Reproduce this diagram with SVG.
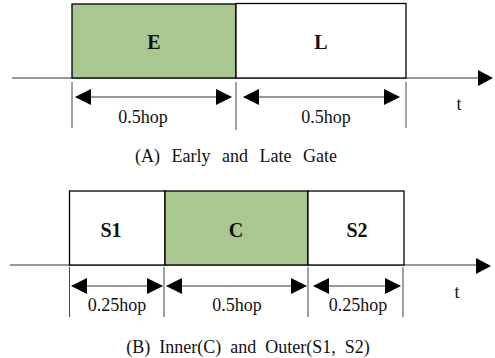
<svg xmlns="http://www.w3.org/2000/svg" width="495" height="358" viewBox="0 0 495 358">
<style>
.box{stroke:#000;stroke-width:1.3}
.g{fill:#a9c791}
.w{fill:#fff}
.axis{stroke:#333;stroke-width:1.2}
.tick{stroke:#444;stroke-width:1}
.dim{stroke:#333;stroke-width:1.2}
.lbl{font-family:"Liberation Serif",serif;font-size:20px;font-weight:bold;text-anchor:middle;fill:#111}
.t{font-family:"Liberation Serif",serif;font-size:18px;text-anchor:middle;fill:#111}
.cap{font-family:"Liberation Serif",serif;font-size:18px;text-anchor:middle;fill:#111;word-spacing:7px}
</style>
<defs>
<marker id="ah" markerWidth="16" markerHeight="16" refX="15" refY="8" orient="auto-start-reverse" markerUnits="userSpaceOnUse">
<path d="M0,0 L16,8 L0,16 Z" fill="#000"/>
</marker>
</defs>
<g id="connectors">
<line class="axis" x1="12" y1="78" x2="480" y2="78"/>
<path d="M478,70 L493,78 L478,86 Z" fill="#000"/>
<line class="tick" x1="72" y1="82" x2="72" y2="128"/>
<line class="tick" x1="236" y1="82" x2="236" y2="130"/>
<line class="tick" x1="406" y1="82" x2="406" y2="128"/>
<line class="dim" x1="76" y1="97" x2="231" y2="97" marker-start="url(#ah)" marker-end="url(#ah)"/>
<line class="dim" x1="244" y1="97" x2="399" y2="97" marker-start="url(#ah)" marker-end="url(#ah)"/>
<line class="axis" x1="10" y1="265" x2="477" y2="265"/>
<path d="M476,258 L491,266 L476,274 Z" fill="#000"/>
<line class="tick" x1="69.5" y1="267" x2="69.5" y2="317"/>
<line class="tick" x1="164" y1="267" x2="164" y2="317"/>
<line class="tick" x1="308" y1="267" x2="308" y2="317"/>
<line class="tick" x1="403" y1="267" x2="403" y2="317"/>
<line class="dim" x1="72" y1="286" x2="162" y2="286" marker-start="url(#ah)" marker-end="url(#ah)"/>
<line class="dim" x1="167" y1="286" x2="306" y2="286" marker-start="url(#ah)" marker-end="url(#ah)"/>
<line class="dim" x1="314" y1="286" x2="400" y2="286" marker-start="url(#ah)" marker-end="url(#ah)"/>
</g>
<g id="E"><rect class="box g" x="72" y="4" width="164" height="74"/><text class="lbl" x="154" y="49">E</text></g>
<g id="L"><rect class="box w" x="236" y="3.5" width="170" height="74.5"/><text class="lbl" x="321" y="49">L</text></g>
<g id="labelsA">
<text class="t" x="143" y="123">0.5hop</text>
<text class="t" x="326" y="123">0.5hop</text>
<text class="t" x="459" y="110">t</text>
<text class="cap" x="236" y="162">(A) Early and Late Gate</text>
</g>
<g id="S1"><rect class="box w" x="69.5" y="191" width="95.5" height="74"/><text class="lbl" x="111" y="237">S1</text></g>
<g id="C"><rect class="box g" x="165" y="191" width="143" height="74"/><text class="lbl" x="236" y="237">C</text></g>
<g id="S2"><rect class="box w" x="308" y="191" width="96" height="74"/><text class="lbl" x="357" y="237">S2</text></g>
<g id="labelsB">
<text class="t" x="117" y="311">0.25hop</text>
<text class="t" x="237" y="311">0.5hop</text>
<text class="t" x="358" y="311">0.25hop</text>
<text class="t" x="457" y="298">t</text>
<text class="cap" x="248" y="353" style="word-spacing:4.5px">(B) Inner(C) and Outer(S1, S2)</text>
</g>
</svg>
